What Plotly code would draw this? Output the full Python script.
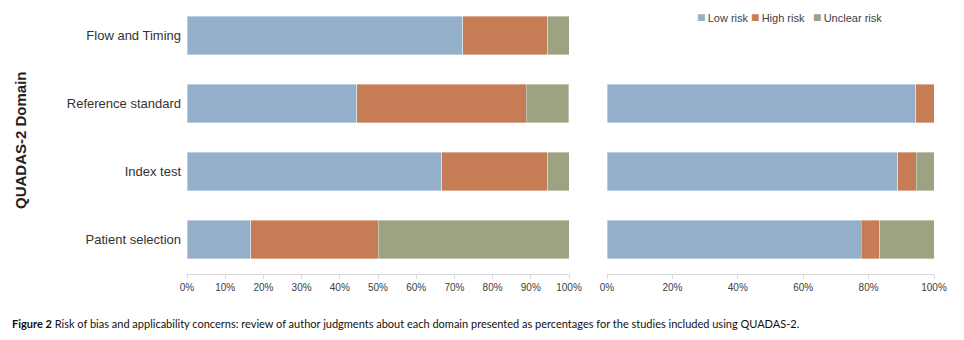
import plotly.graph_objects as go

W, H = 964, 340

domains = ["Patient selection", "Index test", "Reference standard", "Flow and Timing"]

# Risk of bias (left panel), % of studies
bias_low = [16.7, 66.7, 44.4, 72.2]
bias_high = [33.3, 27.8, 44.4, 22.2]
bias_unclear = [50.0, 5.6, 11.1, 5.6]

# Applicability concerns (right panel), % of studies (Flow and Timing not assessed)
app_domains = ["Patient selection", "Index test", "Reference standard"]
app_low = [77.8, 88.9, 94.4]
app_high = [5.6, 5.6, 5.6]
app_unclear = [16.7, 5.6, 0.0]

left_ticks = [0, 10, 20, 30, 40, 50, 60, 70, 80, 90, 100]
right_ticks = [0, 20, 40, 60, 80, 100]

series_names = ["Low risk", "High risk", "Unclear risk"]
colors = ["#94AFCA", "#C67D56", "#9DA283"]

FONT = "Liberation Sans"

fig = go.Figure()
for name, col, vals in zip(series_names, colors, [bias_low, bias_high, bias_unclear]):
    fig.add_trace(go.Bar(
        y=domains, x=vals, orientation="h", name=name,
        marker=dict(color=col, line=dict(color="rgba(255,255,255,0.6)", width=0.6)),
        xaxis="x", yaxis="y", showlegend=False,
    ))
for name, col, vals in zip(series_names, colors, [app_low, app_high, app_unclear]):
    fig.add_trace(go.Bar(
        y=app_domains, x=vals, orientation="h", name=name,
        marker=dict(color=col, line=dict(color="rgba(255,255,255,0.6)", width=0.6)),
        xaxis="x2", yaxis="y2", showlegend=False,
    ))

ydom = [1 - 273.5 / H, 1 - 1.5 / H]
axis_common = dict(
    showgrid=False, zeroline=False, showline=True, linecolor="#D9D9D9", linewidth=1,
    ticks="outside", ticklen=4, tickcolor="#D9D9D9", automargin=False,
    tickfont=dict(family=FONT, size=10, color="#404040"),
    range=[0, 100], fixedrange=True, tickmode="array",
)

fig.update_layout(
    template="none",
    width=W, height=H,
    margin=dict(l=0, r=0, t=0, b=0, autoexpand=False),
    paper_bgcolor="white", plot_bgcolor="white",
    barmode="stack", bargap=0.43,
    showlegend=False,
    xaxis=dict(domain=[187 / W, 569 / W], anchor="y", tickvals=left_ticks,
               ticktext=[f"{t}%" for t in left_ticks], **axis_common),
    xaxis2=dict(domain=[607 / W, 934 / W], anchor="y2", tickvals=right_ticks,
                ticktext=[f"{t}%" for t in right_ticks], **axis_common),
    yaxis=dict(domain=ydom, anchor="x", categoryorder="array", categoryarray=domains,
               showgrid=False, zeroline=False, showline=False, ticks="", automargin=False,
               ticklabelstandoff=5,
               tickfont=dict(family=FONT, size=13, color="#333333")),
    yaxis2=dict(domain=ydom, anchor="x2", matches="y", categoryorder="array", categoryarray=domains,
                showgrid=False, zeroline=False, showline=False, ticks="", showticklabels=False,
                automargin=False),
)

# legend as text annotations
legend_x = [695, 749, 811]
for name, col, lx in zip(series_names, colors, legend_x):
    fig.add_annotation(
        text=f'<span style="color:{col};font-size:14px">■</span>\u2009{name}',
        x=lx / W, y=1 - 17 / H, xref="paper", yref="paper", showarrow=False,
        xanchor="left", yanchor="middle",
        font=dict(family=FONT, size=11, color="#404040"),
    )

fig.add_annotation(
    text="<b>QUADAS-2 Domain</b>", x=20 / W, y=1 - 140 / H, xref="paper", yref="paper",
    textangle=-90, showarrow=False, xanchor="center", yanchor="middle",
    font=dict(family=FONT, size=15, color="#222222"),
)
fig.add_annotation(
    text="<b>Figure 2</b> Risk of bias and applicability concerns: review of author judgments about each domain presented as percentages for the studies included using QUADAS-2.",
    x=10 / W, y=1 - 323 / H, xref="paper", yref="paper", showarrow=False,
    xanchor="left", yanchor="middle",
    font=dict(family="Lato", size=11, color="#111111"),
)

fig.write_html("out.html")
